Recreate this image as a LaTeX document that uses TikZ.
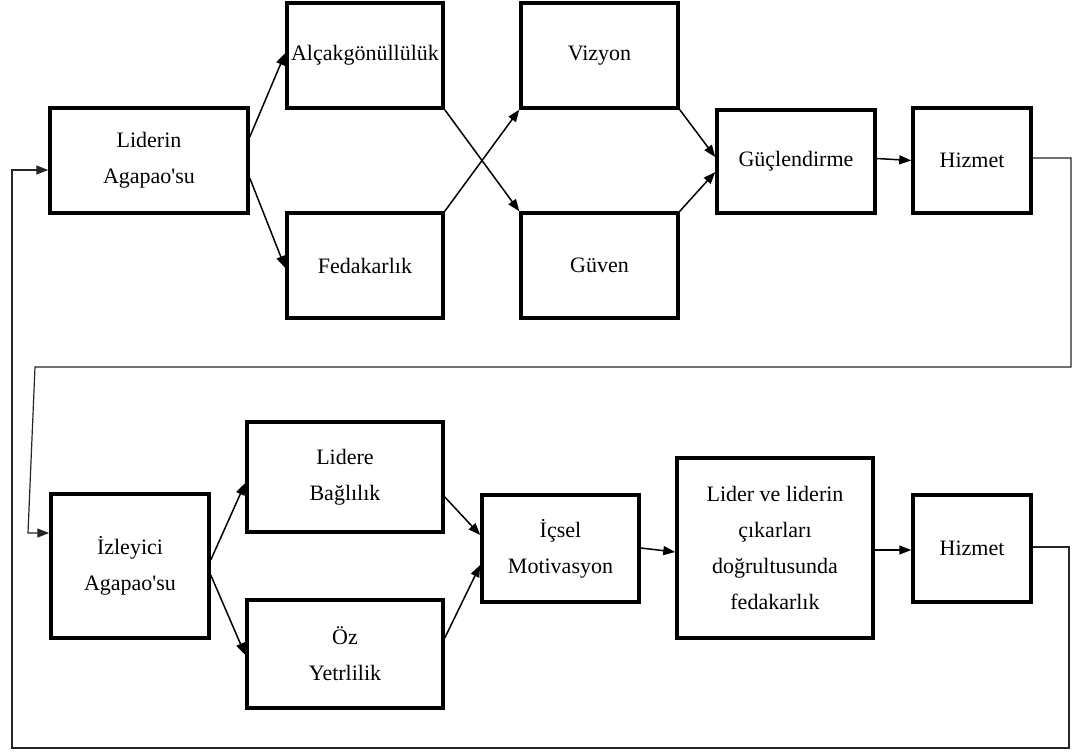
\documentclass[tikz,border=0pt]{standalone}
\usepackage{fontspec}
\newfontfamily\boxfont{Liberation Serif}
\usetikzlibrary{arrows.meta}
\tikzset{
  box/.style={draw, line width=3.5pt, rectangle, inner sep=0pt, align=center,
    font=\boxfont\fontsize{22}{36}\selectfont},
  flow/.style={line width=1.5pt, -{Triangle[length=12pt,width=9pt]}},
  loop/.style={line width=1.2pt, draw=black!85, -{Triangle[length=12pt,width=9pt]}}
}
\begin{document}
\begin{tikzpicture}[x=1pt,y=-1pt]
\useasboundingbox[fill=white] (0,0) rectangle (1082,753);

% upper chain
\node[box, minimum width=198pt, minimum height=105pt] (L1) at (149,160.5) {Liderin\\Agapao'su};
\node[box, minimum width=156pt, minimum height=105pt] (A) at (365,55.5) {Alçakgönüllülük};
\node[box, minimum width=156pt, minimum height=105pt] (F) at (365,265.5) {Fedakarlık};
\node[box, minimum width=157pt, minimum height=105pt] (V) at (599.5,55.5) {Vizyon};
\node[box, minimum width=157pt, minimum height=105pt] (G) at (599.5,265.5) {Güven};
\node[box, minimum width=158pt, minimum height=103pt] (P) at (796,161.5) {Güçlendirme};
\node[box, minimum width=118pt, minimum height=105pt] (H1) at (972,160.5) {Hizmet};

% lower chain
\node[box, minimum width=158pt, minimum height=144pt] (I) at (130,566) {İzleyici\\Agapao'su};
\node[box, minimum width=196pt, minimum height=110pt] (B) at (345,477) {Lidere\\Bağlılık};
\node[box, minimum width=196pt, minimum height=108pt] (O) at (345,654) {Öz\\Yetrlilik};
\node[box, minimum width=157pt, minimum height=107pt] (M) at (560.5,548.5) {İçsel\\Motivasyon};
\node[box, minimum width=196pt, minimum height=180pt] (D) at (775,548) {Lider ve liderin\\çıkarları\\doğrultusunda\\fedakarlık};
\node[box, minimum width=118pt, minimum height=107pt] (H2) at (972,548.5) {Hizmet};

% upper connectors
\draw[flow] ([yshift=23.5pt]L1.east) -- ([yshift=2.5pt]A.west);
\draw[flow] ([yshift=-17.5pt]L1.east) -- ([yshift=-2.5pt]F.west);
\draw[flow] (A.south east) -- (G.north west);
\draw[flow] (F.north east) -- (V.south west);
\draw[flow] (V.south east) -- ([yshift=4.5pt]P.west);
\draw[flow] (G.north east) -- ([yshift=-10.5pt]P.west);
\draw[flow] ([yshift=3pt]P.east) -- (H1.west);

% lower connectors
\draw[flow] ([yshift=6pt]I.east) -- ([yshift=-6pt]B.west);
\draw[flow] ([yshift=-9pt]I.east) -- ([yshift=-1pt]O.west);
\draw[flow] ([yshift=-20pt]B.east) -- ([yshift=13.5pt]M.west);
\draw[flow] ([yshift=16pt]O.east) -- ([yshift=-16.5pt]M.west);
\draw[flow] ([yshift=0.5pt]M.east) -- ([yshift=-4pt]D.west);
\draw[flow] ([yshift=-2pt]D.east) -- ([yshift=-1.5pt]H2.west);

% feedback loops
\coordinate (c1) at (1071,367);
\coordinate (c2) at (35,367);
\coordinate (c3) at (28,533);
\draw[loop] ([yshift=2.5pt]H1.east) -| (c1) -- (c2) -- (c3) -- (c3 -| I.west);

\coordinate (c4) at (1069,748);
\coordinate (c5) at (12,748);
\coordinate (c6) at (12,170);
\draw[loop] ([yshift=1.5pt]H2.east) -| (c4) -- (c5) -- (c6) -- (c6 -| L1.west);
\end{tikzpicture}
\end{document}
